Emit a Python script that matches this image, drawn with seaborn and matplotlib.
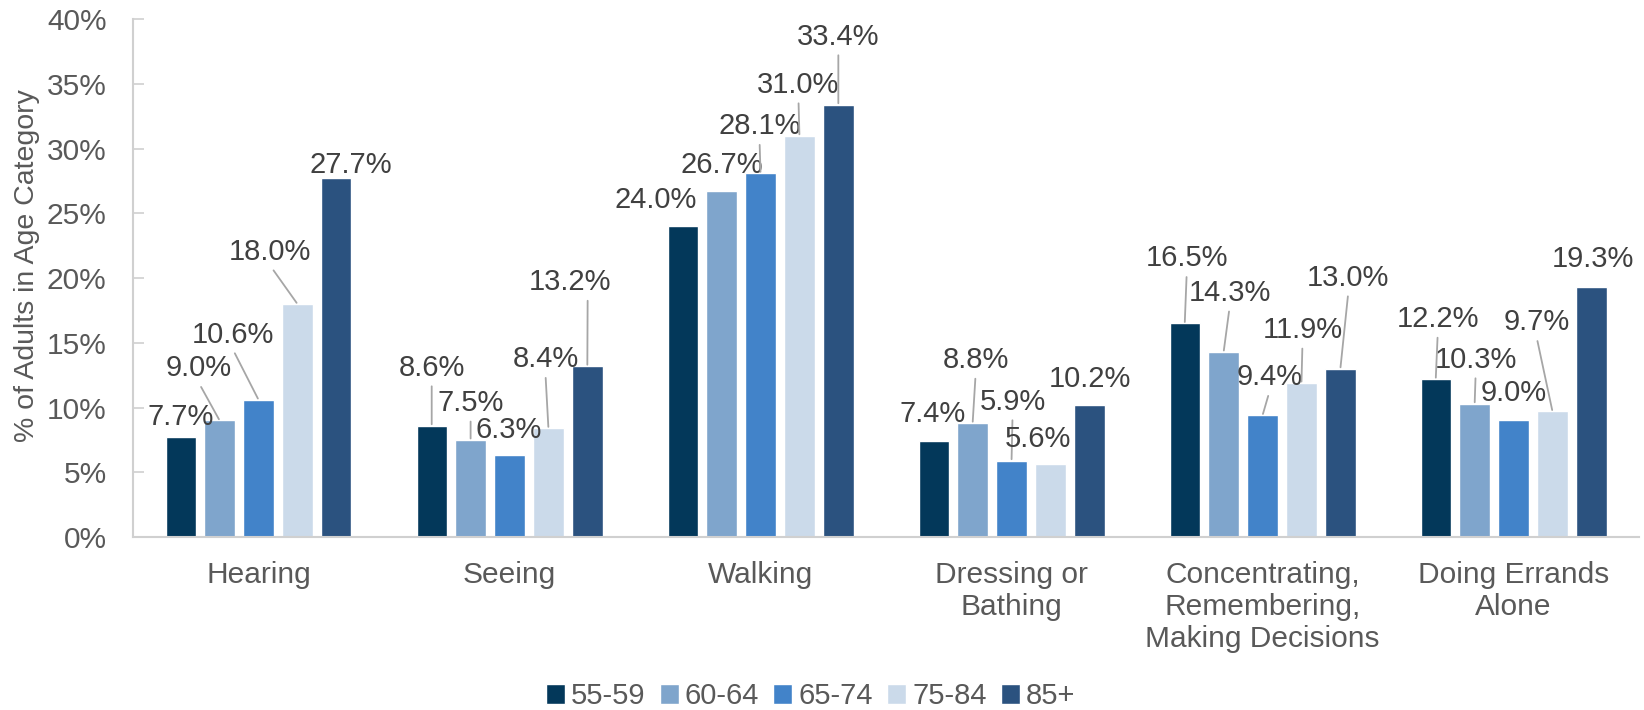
import numpy as np
import pandas as pd
import matplotlib
matplotlib.use("Agg")
import matplotlib.pyplot as plt
import seaborn as sns

# ---- data ----
categories = ["Hearing", "Seeing", "Walking", "Dressing or\nBathing",
              "Concentrating,\nRemembering,\nMaking Decisions", "Doing Errands\nAlone"]
age_groups = ["55-59", "60-64", "65-74", "75-84", "85+"]
v_55_59 = [7.7, 8.6, 24.0, 7.4, 16.5, 12.2]
v_60_64 = [9.0, 7.5, 26.7, 8.8, 14.3, 10.3]
v_65_74 = [10.6, 6.3, 28.1, 5.9, 9.4, 9.0]
v_75_84 = [18.0, 8.4, 31.0, 5.6, 11.9, 9.7]
v_85p = [27.7, 13.2, 33.4, 10.2, 13.0, 19.3]
series = [v_55_59, v_60_64, v_65_74, v_75_84, v_85p]
colors = ["#03385A", "#7FA5CC", "#4283C9", "#CBDAEA", "#2B527F"]

# label placement (pixel offsets from bar top, leader line flag), per age group x category
label_dx = [[0, 0, -27, -1, 2, 2],
            [-21, 0, 0, 3, 6, 1],
            [-26, -1, -1, 1, 7, 0],
            [-27, -3, -1, -12, 1, -16],
            [14, -17, 0, 1, 8, 2]]
label_dy = [[-20, -58, -26, -27, -65, -60],
            [-52, -37, -26, -63, -59, -44],
            [-65, -25, -47, -59, -38, -27],
            [-52, -69, -51, -25, -53, -89],
            [-13, -84, -68, -26, -91, -28]]
leader = [[0, 1, 0, 0, 1, 1],
          [1, 1, 0, 1, 1, 1],
          [1, 0, 1, 1, 1, 0],
          [1, 1, 1, 0, 1, 1],
          [0, 1, 1, 0, 1, 0]]
leader_relx = {(4, 1): 0.71}

rows = []
for g, vals in zip(age_groups, series):
    for c, v in zip(categories, vals):
        rows.append({"Category": c, "Age": g, "Value": v})
df = pd.DataFrame(rows)

sns.set_theme(style="white")
plt.rcParams["font.family"] = ["Liberation Sans", "DejaVu Sans"]

fig = plt.figure(figsize=(16.44, 7.10), dpi=100)
ax = fig.add_axes([0.0809, 0.2437, 0.9161, 0.7293])

sns.barplot(data=df, x="Category", y="Value", hue="Age", order=categories,
            hue_order=age_groups, palette=colors, width=0.775, gap=0.22,
            saturation=1, errorbar=None, ax=ax)

handles, labels = ax.get_legend_handles_labels()
if ax.legend_ is not None:
    ax.legend_.remove()

ax.set_ylim(0, 40)
ax.set_xlim(-0.5, len(categories) - 0.5)
ax.set_yticks(np.arange(0, 41, 5))
ax.set_yticklabels([f"{t}%" for t in range(0, 41, 5)])
ax.tick_params(axis="y", direction="in", length=8, width=1.2, color="#D0D0D0",
               pad=19, labelsize=21.5, labelcolor="#595959", left=True)
ax.tick_params(axis="x", length=0, pad=17, labelsize=21.5, labelcolor="#595959")
ax.set_xlabel("")
ax.set_ylabel("% of Adults in Age Category", fontsize=20.5, color="#595959")
ax.yaxis.set_label_coords(-0.062, 0.524)

for s in ["top", "right"]:
    ax.spines[s].set_visible(False)
for s in ["left", "bottom"]:
    ax.spines[s].set_color("#D0D0D0")
    ax.spines[s].set_linewidth(1.5)

px = 0.72  # points per pixel at dpi 100
for i, cont in enumerate(ax.containers):
    for j, bar in enumerate(cont):
        xc = bar.get_x() + bar.get_width() / 2
        h = bar.get_height()
        kw = {}
        if leader[i][j]:
            kw["arrowprops"] = dict(arrowstyle="-", color="#A6A6A6", lw=1.3,
                                    shrinkA=1, shrinkB=1,
                                    relpos=(leader_relx.get((i, j), 0.5), 0.0))
        ax.annotate(f"{series[i][j]:.1f}%", xy=(xc, h),
                    xytext=(label_dx[i][j] * px, -label_dy[i][j] * px),
                    textcoords="offset points", ha="center", va="center",
                    fontsize=21, color="#404040", **kw)

fig.legend(handles, labels, loc="lower center", bbox_to_anchor=(0.493, -0.037),
           ncol=5, frameon=False, fontsize=21, handlelength=0.65, handleheight=0.65,
           handletextpad=0.2, columnspacing=0.5, labelcolor="#595959")

fig.savefig("out.png", dpi=100)
